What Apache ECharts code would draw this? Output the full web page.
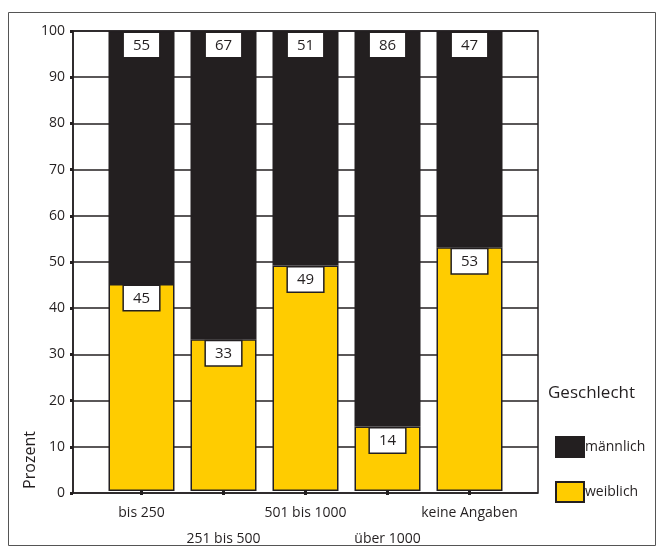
<!DOCTYPE html>
<html>
<head>
<meta charset="utf-8">
<script src="https://cdn.jsdelivr.net/npm/echarts@6/dist/echarts.min.js"></script>
<style>html,body{margin:0;padding:0;background:#fff}#c{width:664px;height:552px}</style>
</head>
<body>
<div id="c"></div>
<script>
const categories = ['bis 250', '251 bis 500', '501 bis 1000', 'über 1000', 'keine Angaben'];
const weiblich = [45, 33, 49, 14, 53];
const maennlich = [55, 67, 51, 86, 47];
const yTicks = [0, 10, 20, 30, 40, 50, 60, 70, 80, 90, 100];

const FONT = 'Open Sans';
const DARK = '#231f20';
const YELLOW = '#ffcc00';

const chart = echarts.init(document.getElementById('c'));
const labelStyle = {
  show: true,
  position: 'insideTop',
  distance: 2,
  color: DARK,
  fontFamily: FONT,
  fontSize: 15,
  backgroundColor: '#fff',
  borderColor: DARK,
  borderWidth: 1.5,
  padding: [5, 9, 4, 9]
};
chart.setOption({
  animation: false,
  textStyle: { fontFamily: FONT },
  graphic: [
    { type: 'rect', shape: { x: 8.5, y: 12.5, width: 647, height: 533 }, style: { fill: 'none', stroke: '#555', lineWidth: 1 }, z: -10 },
    { type: 'text', x: 30, y: 460, rotation: Math.PI / 2, style: { text: 'Prozent', fontFamily: FONT, fontSize: 16, fill: DARK, align: 'center', verticalAlign: 'middle' } }
  ],
  grid: [
    { left: 73, right: 126, top: 31, bottom: 59, show: true, borderColor: DARK, borderWidth: 1.5, backgroundColor: 'transparent' },
    { left: 100.5, width: 410, top: 31, bottom: 59 }
  ],
  legend: {
    orient: 'vertical',
    left: 550,
    top: 431,
    icon: 'rect',
    itemWidth: 28,
    itemHeight: 20,
    itemGap: 23,
    data: ['männlich', 'weiblich'],
    textStyle: { fontFamily: FONT, fontSize: 14, color: DARK, padding: [0, 0, 0, -4] }
  },
  title: {
    text: 'Geschlecht',
    left: 543,
    top: 380,
    textStyle: { fontFamily: FONT, fontSize: 17, fontWeight: 'normal', color: DARK }
  },
  xAxis: [
    { gridIndex: 0, type: 'value', show: false, min: 0, max: 1 },
    {
      gridIndex: 1,
      type: 'category',
      data: categories,
      axisLine: { show: false },
      axisTick: { show: true, alignWithLabel: true, length: 4, lineStyle: { color: DARK, width: 3 } },
      axisLabel: {
        margin: 9,
        color: DARK,
        fontFamily: FONT,
        fontSize: 14,
        interval: 0,
        formatter: function (v, i) { return i % 2 === 1 ? '\n' + v : v; },
        lineHeight: 26
      }
    }
  ],
  yAxis: [
    {
      gridIndex: 0,
      type: 'value',
      min: 0,
      max: 100,
      interval: 10,
      axisLine: { show: true, lineStyle: { color: DARK, width: 1.5 } },
      axisTick: { show: true, length: 3, lineStyle: { color: DARK, width: 3 } },
      axisLabel: { color: DARK, fontFamily: FONT, fontSize: 14, margin: 8 },
      splitLine: { show: true, lineStyle: { color: DARK, width: 1.5 } }
    },
    { gridIndex: 1, type: 'value', min: 0, max: 100, show: false }
  ],
  series: [
    {
      name: 'weiblich',
      type: 'bar',
      xAxisIndex: 1,
      yAxisIndex: 1,
      stack: 's',
      barWidth: 66,
      data: weiblich,
      itemStyle: { color: YELLOW, borderColor: DARK, borderWidth: 1.5 },
      label: labelStyle
    },
    {
      name: 'männlich',
      type: 'bar',
      xAxisIndex: 1,
      yAxisIndex: 1,
      stack: 's',
      barWidth: 66,
      data: maennlich,
      itemStyle: { color: DARK, borderColor: DARK, borderWidth: 1.5 },
      label: labelStyle
    }
  ]
});
</script>
</body>
</html>
